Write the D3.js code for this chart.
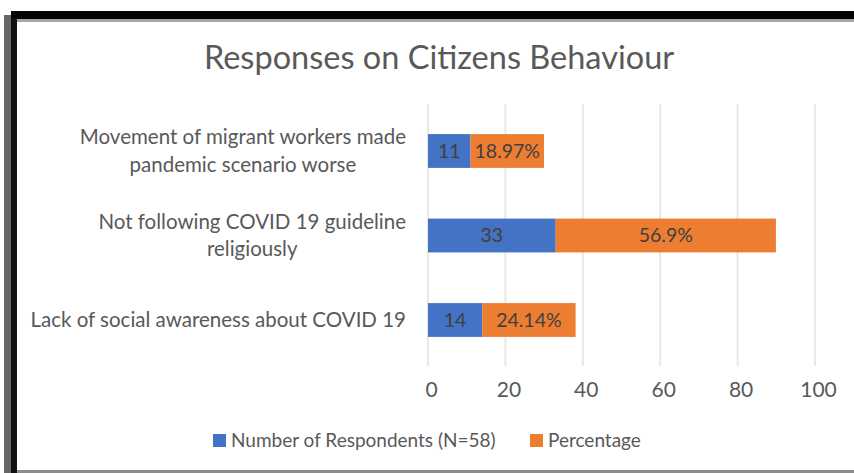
<!DOCTYPE html>
<html><head><meta charset="utf-8">
<script src="https://cdn.jsdelivr.net/npm/d3@7"></script>
<style>body{margin:0;background:#fff;}svg{display:block;}</style>
</head><body>
<svg id="c" width="854" height="473"></svg>
<script>
const categories = [
  ["Movement of migrant workers made", "pandemic scenario worse"],
  ["Not following COVID 19 guideline", "religiously"],
  ["Lack of social awareness about COVID 19"]
];
const respondents = [11, 33, 14];
const percentage = [18.97, 56.9, 24.14];
const percentLabels = ["18.97%", "56.9%", "24.14%"];
const xTicks = [0, 20, 40, 60, 80, 100];
const seriesNames = ["Number of Respondents (N=58)", "Percentage"];
const colors = ["#4472C4", "#ED7D31"];
const title = "Responses on Citizens Behaviour";

const svg = d3.select("#c");
const font = "Lato, 'Open Sans', sans-serif";

// frame
svg.append("rect").attr("x",4).attr("y",15).attr("width",7).attr("height",458).attr("fill","#666");
svg.append("rect").attr("x",11).attr("y",11).attr("width",6).attr("height",462).attr("fill","#111");
svg.append("rect").attr("x",11).attr("y",11).attr("width",843).attr("height",8).attr("fill","#050505");
svg.append("rect").attr("x",17).attr("y",19).attr("width",837).attr("height",3).attr("fill","#a6a6a6");
svg.append("rect").attr("x",17).attr("y",470).attr("width",837).attr("height",3).attr("fill","#8c8c8c");

const x = d3.scaleLinear().domain([0,100]).range([428,815]);
const idx = d3.range(categories.length);
const y = d3.scaleBand().domain(idx).range([108.75,362.25]).paddingInner(0.6).paddingOuter(0.3);

// gridlines
svg.append("g").selectAll("line").data(xTicks).join("line")
  .attr("x1",d=>x(d)).attr("x2",d=>x(d)).attr("y1",104).attr("y2",366)
  .attr("stroke","#e8e8e8").attr("stroke-width",2);

// axis labels
const ax = svg.append("g").attr("transform","translate(3,374)")
  .call(d3.axisBottom(x).tickValues(xTicks).tickSize(0).tickPadding(8));
ax.select(".domain").remove();
ax.selectAll("text").attr("font-family",font).attr("font-size",21).attr("fill","#595959");

// bars
const stacks = idx.map(i => ({i, v0:0, v1:respondents[i], p0:respondents[i], p1:respondents[i]+percentage[i]}));
svg.append("g").selectAll("rect").data(stacks).join("rect")
  .attr("x",d=>x(d.v0)).attr("width",d=>x(d.v1)-x(d.v0))
  .attr("y",d=>y(d.i)).attr("height",y.bandwidth()).attr("fill",colors[0]);
svg.append("g").selectAll("rect").data(stacks).join("rect")
  .attr("x",d=>x(d.p0)).attr("width",d=>x(d.p1)-x(d.p0))
  .attr("y",d=>y(d.i)).attr("height",y.bandwidth()).attr("fill",colors[1]);

// bar labels
svg.append("g").selectAll("text").data(stacks).join("text")
  .attr("x",d=>(x(d.v0)+x(d.v1))/2).attr("y",d=>y(d.i)+y.bandwidth()/2)
  .attr("dy","0.35em").attr("text-anchor","middle")
  .attr("font-family",font).attr("font-size",19.5).attr("fill","#404040")
  .text(d=>respondents[d.i]);
svg.append("g").selectAll("text").data(stacks).join("text")
  .attr("x",d=>(x(d.p0)+x(d.p1))/2).attr("y",d=>y(d.i)+y.bandwidth()/2)
  .attr("dy","0.35em").attr("text-anchor","middle")
  .attr("font-family",font).attr("font-size",19.5).attr("fill","#404040")
  .text(d=>percentLabels[d.i]);

// category labels (centered block, right-aligned)
const lineH = 27.5;
idx.forEach(i => {
  const lines = categories[i];
  const g = svg.append("g");
  const cy = y(i) + y.bandwidth()/2;
  const texts = lines.map((t,k) => g.append("text")
    .attr("y", cy + (k - (lines.length-1)/2)*lineH)
    .attr("dy","0.35em").attr("text-anchor","middle")
    .attr("font-family",font).attr("font-size",20.5).attr("fill","#595959").text(t));
  const w = d3.max(texts, t => t.node().getComputedTextLength());
  texts.forEach(t => t.attr("x", 406 - w/2));
});

// title
svg.append("text").attr("x",439).attr("y",58).attr("dy","0.35em").attr("text-anchor","middle")
  .attr("font-family",font).attr("font-size",32.5).attr("fill","#595959").text(title);

// legend
const leg = [{x:213, c:colors[0], t:seriesNames[0]},{x:530, c:colors[1], t:seriesNames[1]}];
leg.forEach(l => {
  svg.append("rect").attr("x",l.x).attr("y",434).attr("width",13).attr("height",13).attr("fill",l.c);
  svg.append("text").attr("x",l.x+18).attr("y",440.5).attr("dy","0.35em")
    .attr("font-family",font).attr("font-size",19).attr("fill","#595959").text(l.t);
});
</script>
</body></html>
